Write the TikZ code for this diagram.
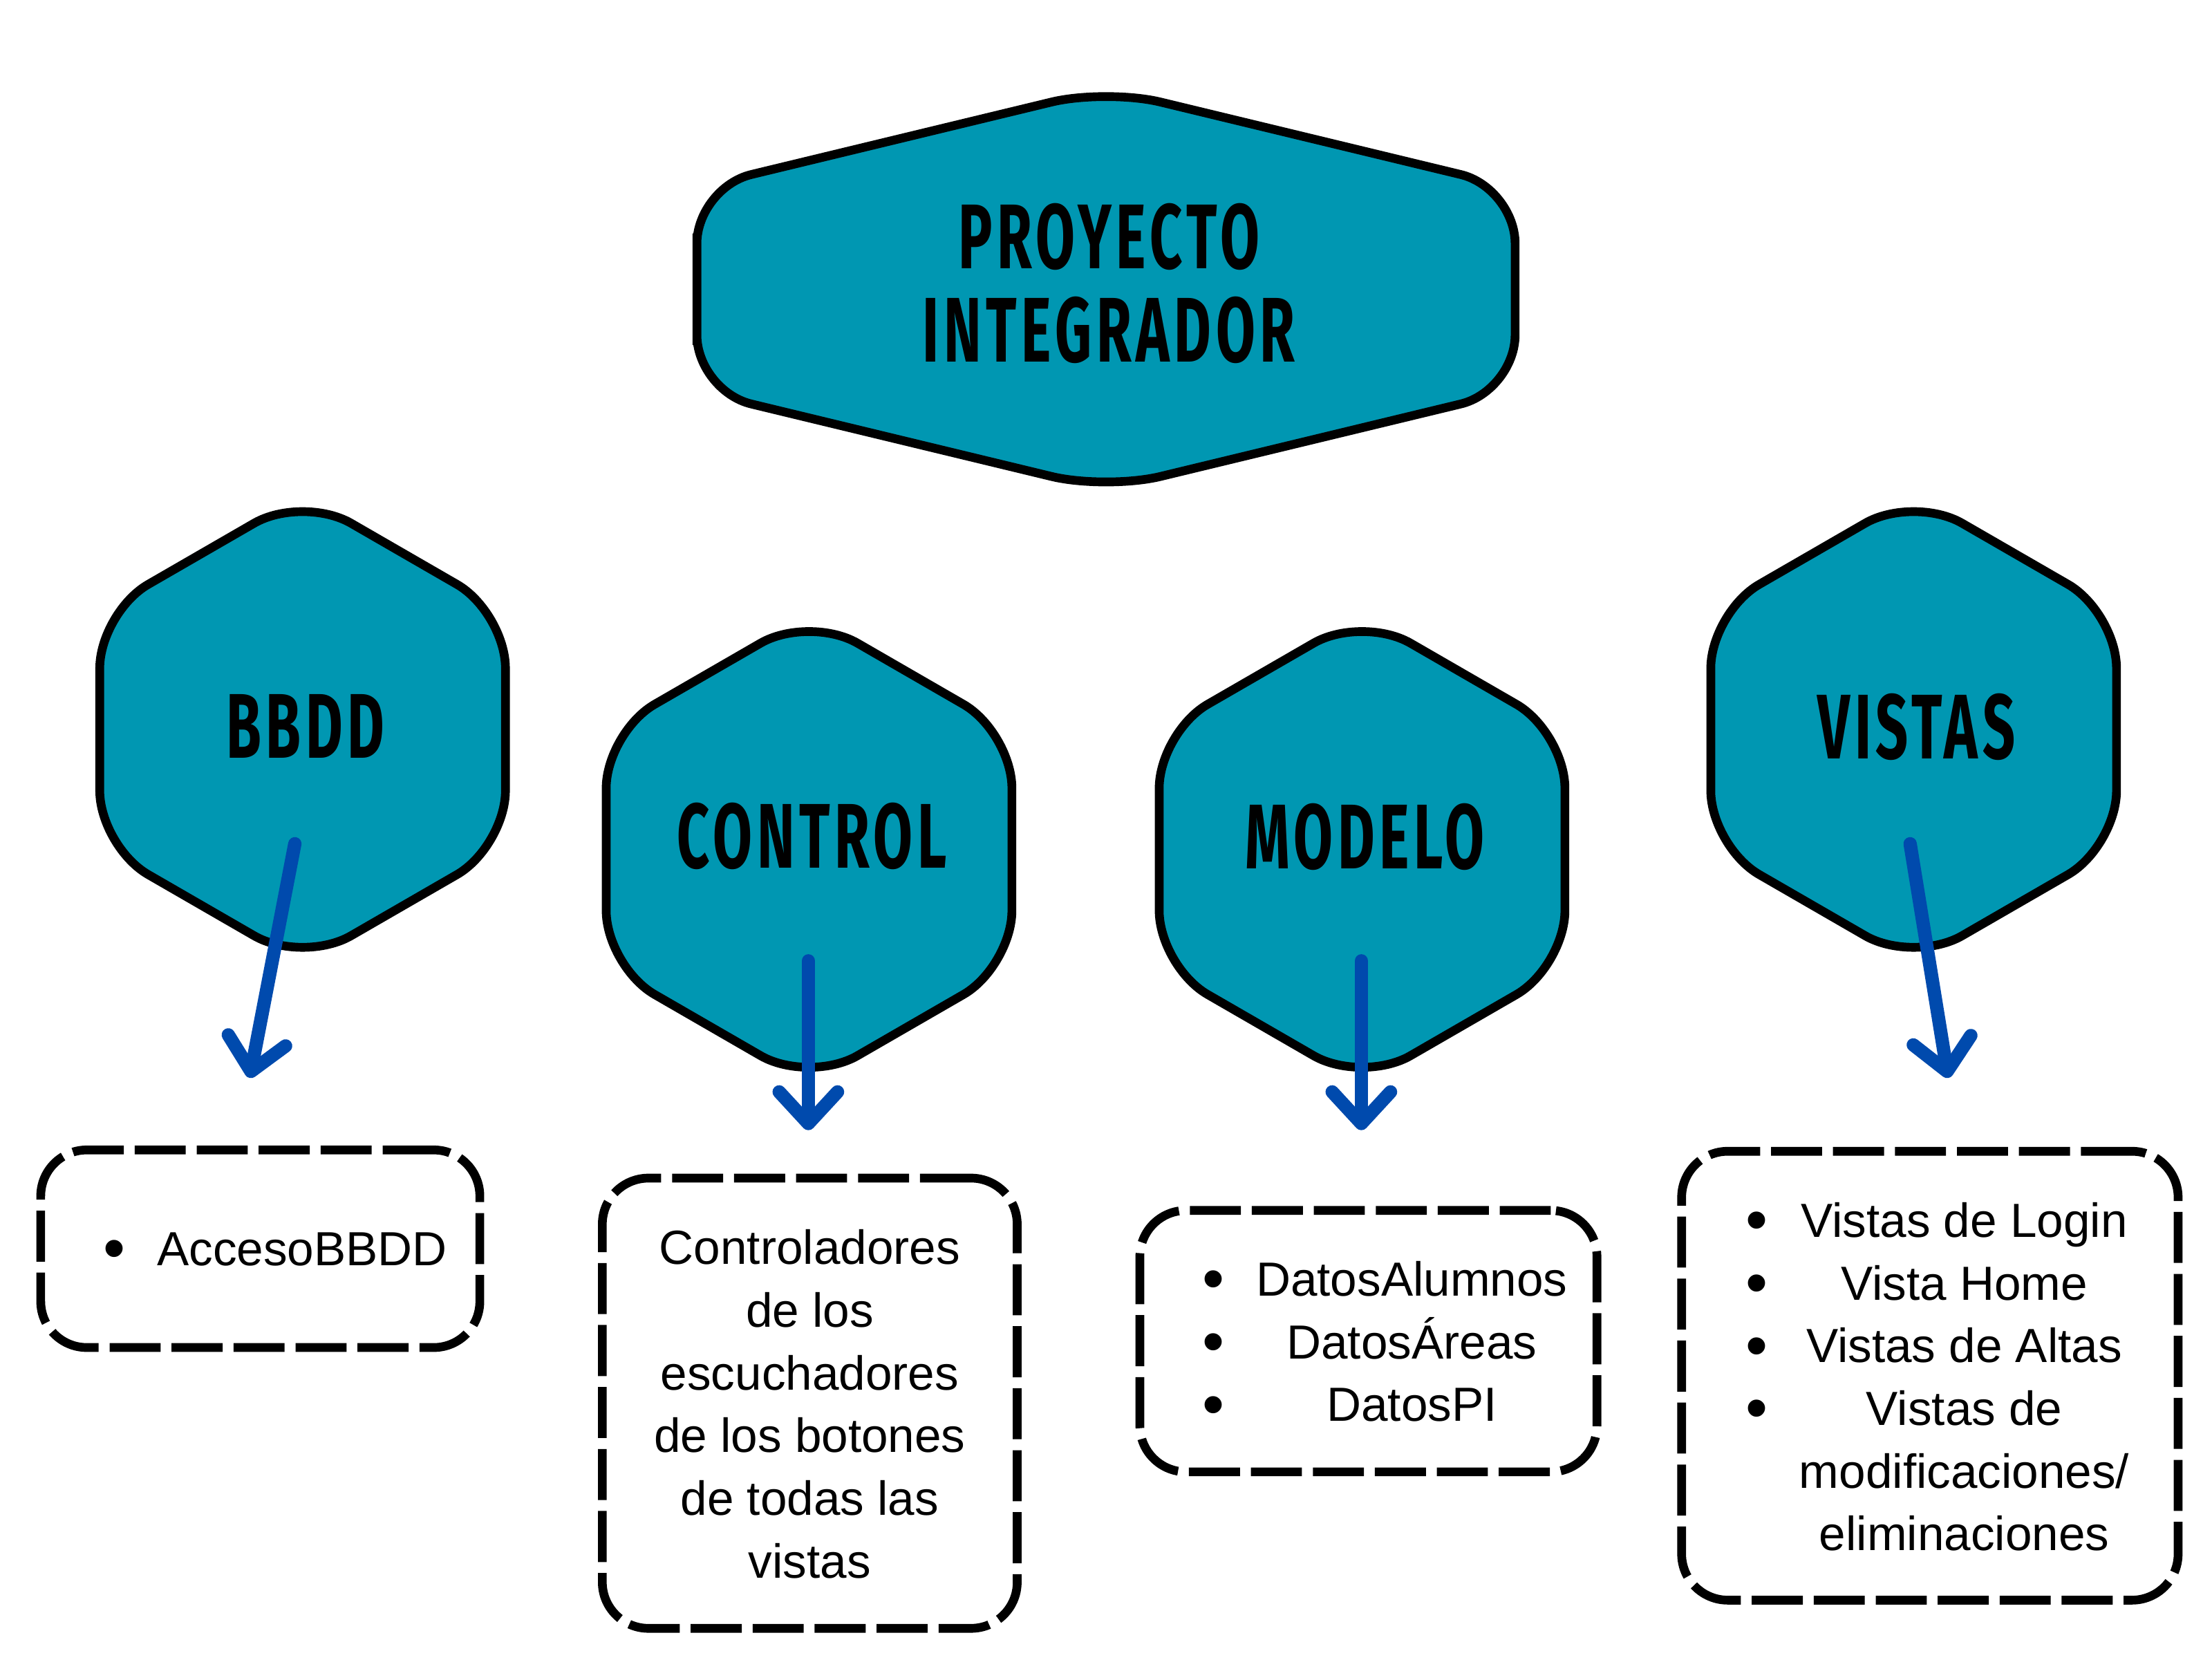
\documentclass[tikz,border=0pt]{standalone}
\usepackage{fontspec}
\setmainfont{Liberation Sans}
\newfontfamily\headfont[FakeStretch=0.62, LetterSpace=5]{Fira Sans}
\usepackage{xcolor}
\usepackage{tikz}
\usetikzlibrary{arrows.meta,positioning,calc}
\definecolor{hexteal}{RGB}{0,151,178}
\definecolor{arrowblue}{RGB}{0,74,173}
\newcommand\itembullet{\raisebox{-1.8pt}{\fontsize{26}{26}\selectfont\textbullet}}

\begin{document}
\begin{tikzpicture}[
  x=0.020408cm, y=-0.020408cm,
  hexa/.style={draw=black, line width=3.6pt, fill=hexteal, rounded corners=23pt},
  head/.style={font=\headfont\bfseries\fontsize{37.8}{38.3}\selectfont, align=center, inner sep=0pt},
  dashbox/.style={draw, line width=3.6pt, dash pattern=on 21pt off 4.5pt,
    rounded corners=19pt, inner sep=0pt},
  items/.style={font=\fontsize{19.7}{25.8}\selectfont, align=center, inner sep=0pt},
  down/.style={draw=arrowblue, line width=5.5pt, line cap=round,
    -{Straight Barb[length=13pt, width=24pt, round]}},
]
  \useasboundingbox (0,0) rectangle (1568,1176);

  % --- title hexagon --------------------------------------------------
  \draw[hexa] (494,205) -- (494,133) -- (784,63) -- (1074,133) -- (1074,277)
    -- (784,347) -- (494,277) -- cycle;
  \node[head] (proyecto) at (786,201) {PROYECTO\\INTEGRADOR};

  % --- the four layers ------------------------------------------------
  \foreach \name/\cx/\cy/\ty/\txt in {bbdd/214.5/517/514.5/BBDD,
      control/573.5/602/592.5/CONTROL, modelo/965.5/602/593/MODELO,
      vistas/1356.5/517/515/VISTAS}{
    \draw[hexa] (\cx-143.8,\cy) -- (\cx-143.8,\cy-83) -- (\cx,\cy-166)
      -- (\cx+143.8,\cy-83) -- (\cx+143.8,\cy+83) -- (\cx,\cy+166)
      -- (\cx-143.8,\cy+83) -- cycle;
    \node[head] (\name) at (\cx+2,\ty) {\txt};
  }

  % --- arrow ends -----------------------------------------------------
  \coordinate (bbdd-a) at (209,598);     \coordinate (bbdd-b) at (177,764);
  \coordinate (control-a) at (573,681);  \coordinate (control-b) at (573,801);
  \coordinate (modelo-a) at (965,681);   \coordinate (modelo-b) at (965,801);
  \coordinate (vistas-a) at (1354,598);  \coordinate (vistas-b) at (1381,764);
  \foreach \n in {bbdd,control,modelo,vistas}
    \draw[down] (\n-a) -- (\n-b);

  % --- dashed boxes and what they hold --------------------------------
  \node[dashbox, minimum width=6.35cm, minimum height=2.857cm] (accbox) at (184.5,885) {};
  \node[dashbox, minimum width=6.0cm, minimum height=6.51cm] (ctrlbox) at (574,994.5) {};
  \node[dashbox, minimum width=6.61cm, minimum height=3.78cm] (datbox) at (970,950.5) {};
  \node[dashbox, minimum width=7.18cm, minimum height=6.49cm] (vistbox) at (1368,975) {};

  \node[items, anchor=west] (acc) at (73,888)
    {\begin{tabular}{@{}c@{\hspace{13pt}}c@{}}\itembullet & AccesoBBDD\end{tabular}};
  \node[items] (ctrl) at (574,995)
    {Controladores\\ de los\\ escuchadores\\ de los botones\\ de todas las\\ vistas};
  \node[items, anchor=west] (dat) at (852,954)
    {\begin{tabular}{@{}c@{\hspace{13pt}}c@{}}
      \itembullet & DatosAlumnos\\ \itembullet & DatosÁreas\\ \itembullet & DatosPI
    \end{tabular}};
  \node[items, anchor=west] (vist) at (1237,979)
    {\begin{tabular}{@{}c@{\hspace{13pt}}c@{}}
      \itembullet & Vistas de Login\\ \itembullet & Vista Home\\
      \itembullet & Vistas de Altas\\ \itembullet & Vistas de\\
      & modificaciones/\\ & eliminaciones
    \end{tabular}};
\end{tikzpicture}
\end{document}
